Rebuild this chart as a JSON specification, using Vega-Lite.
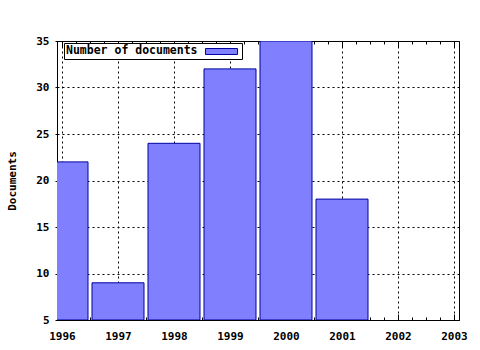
{
  "$schema": "https://vega.github.io/schema/vega-lite/v6.json",
  "width": 402,
  "height": 279,
  "autosize": {"type": "none"},
  "padding": {"left": 57, "top": 41, "right": 21, "bottom": 30},
  "background": "white",
  "config": {
    "view": {"stroke": "black", "strokeWidth": 1},
    "font": "DejaVu Sans Mono",
    "axis": {
      "labelFont": "DejaVu Sans Mono", "labelFontSize": 11, "labelFontWeight": "bold", "labelColor": "black",
      "titleFont": "DejaVu Sans Mono", "titleFontSize": 11, "titleFontWeight": "bold", "titleColor": "black",
      "domainColor": "black", "tickColor": "black", "gridColor": "black", "gridDash": [2, 3], "gridOpacity": 1
    }
  },
  "data": {"values": [
    {"year": 1996, "docs": 22, "series": "Number of documents"},
    {"year": 1997, "docs": 9, "series": "Number of documents"},
    {"year": 1998, "docs": 24, "series": "Number of documents"},
    {"year": 1999, "docs": 32, "series": "Number of documents"},
    {"year": 2000, "docs": 35, "series": "Number of documents"},
    {"year": 2001, "docs": 18, "series": "Number of documents"}
  ]},
  "resolve": {"axis": {"x": "independent"}},
  "layer": [
    {
      "mark": {"type": "bar", "width": 52, "clip": true, "stroke": "#0000a0", "strokeWidth": 1},
      "encoding": {
        "x": {"field": "year", "type": "quantitative",
          "scale": {"domain": [1996, 2003], "nice": false, "zero": false},
          "axis": {"title": null,
            "values": [1996, 1996.25, 1996.5, 1996.75, 1997, 1997.25, 1997.5, 1997.75, 1998, 1998.25, 1998.5, 1998.75, 1999, 1999.25, 1999.5, 1999.75, 2000, 2000.25, 2000.5, 2000.75, 2001, 2001.25, 2001.5, 2001.75, 2002, 2002.25, 2002.5, 2002.75, 2003],
            "labelExpr": "datum.value % 1 === 0 ? format(datum.value, 'd') : ''",
            "tickSize": {"condition": {"test": "datum.value % 1 === 0", "value": -6}, "value": -3},
            "gridOpacity": {"condition": {"test": "datum.value % 1 === 0", "value": 1}, "value": 0},
            "labelPadding": 16, "grid": true, "labelFlush": false}},
        "y": {"field": "docs", "type": "quantitative",
          "scale": {"domain": [5, 35], "nice": false, "zero": false},
          "axis": {"title": "Documents", "values": [5, 10, 15, 20, 25, 30, 35], "tickSize": 2, "labelPadding": 6, "titlePadding": 18, "labelFlush": false}},
        "y2": {"datum": 5},
        "color": {"field": "series", "type": "nominal",
          "scale": {"range": ["#8080ff"]},
          "legend": {"title": "Number of documents", "titleOrient": "left", "titlePadding": 5,
            "titleFont": "DejaVu Sans Mono", "titleFontSize": 11.5, "titleFontWeight": "bold", "titleColor": "black",
            "titleBaseline": "middle", "titleAnchor": "middle",
            "labelExpr": "''", "labelOffset": 4,
            "orient": "none", "legendX": 7, "legendY": 2,
            "strokeColor": "black", "fillColor": "white", "padding": 2,
            "symbolType": "M-2.67,-0.5H2.67V0.5H-2.67Z", "symbolSize": 144, "symbolOffset": 12,
            "symbolStrokeColor": "#0000a0", "symbolStrokeWidth": 1, "symbolFillColor": "#8080ff"}}
      }
    },
    {
      "mark": {"type": "bar", "width": 52, "opacity": 0},
      "encoding": {
        "x": {"field": "year", "type": "quantitative",
          "scale": {"domain": [1996, 2003], "nice": false, "zero": false},
          "axis": {"orient": "top", "title": null, "labels": false, "grid": false, "domain": false,
            "values": [1996, 1996.25, 1996.5, 1996.75, 1997, 1997.25, 1997.5, 1997.75, 1998, 1998.25, 1998.5, 1998.75, 1999, 1999.25, 1999.5, 1999.75, 2000, 2000.25, 2000.5, 2000.75, 2001, 2001.25, 2001.5, 2001.75, 2002, 2002.25, 2002.5, 2002.75, 2003],
            "tickSize": {"condition": {"test": "datum.value % 1 === 0", "value": -6}, "value": -3}}},
        "y": {"field": "docs", "type": "quantitative"},
        "y2": {"datum": 5}
      }
    }
  ]
}
